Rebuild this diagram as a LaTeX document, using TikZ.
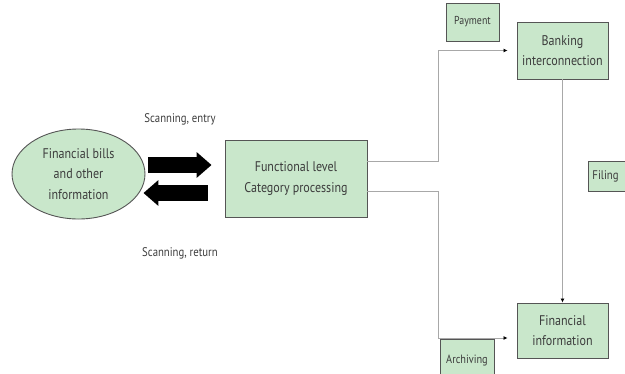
\documentclass[tikz,border=0pt]{standalone}
\usepackage{fontspec}
\newfontfamily\diagfont[FakeStretch=0.86]{PT Sans}
\usepackage{tikz}
\usetikzlibrary{shapes,arrows.meta}
\definecolor{bgreen}{HTML}{C9E7CB}
\definecolor{bedge}{HTML}{555555}
\definecolor{btext}{HTML}{3C3C3C}
\definecolor{bline}{HTML}{A8A8A8}
\tikzstyle{block} = [rectangle, draw=bedge, fill=bgreen, line width=0.9pt, align=center, text=btext, inner sep=1pt]
\tikzstyle{arrow} = [draw=bline, line width=0.9pt, -{Latex[black, length=4pt, width=4pt]}]
\tikzstyle{fat} = [draw=black, line width=16pt, -{Triangle[length=15pt, width=25pt]}]

\begin{document}
\begin{tikzpicture}[x=1pt, y=-1pt, font=\diagfont\fontsize{14}{20.5}\selectfont]
\clip (0, 0) rectangle (625, 373);
\fill[white] (0, 0) rectangle (625, 373);

%% source and processing
\node[block, ellipse, minimum width=133, minimum height=90] at (78.5, 174) (bills) {Financial bills\\and other\\information};
\node[block, minimum width=142, minimum height=77] at (296, 178.5) (func) {Functional level\\Category processing};

\node[text=btext, font=\diagfont\fontsize{12.5}{14}\selectfont] at (180, 119) (entry) {Scanning, entry};
\node[text=btext, font=\diagfont\fontsize{12.5}{14}\selectfont] at (180, 253) (ret) {Scanning, return};

\path[fat] ([xshift=3, yshift=9]bills.east) -- ([xshift=-13, yshift=13.5]func.west);
\path[fat] ([xshift=-17, yshift=-14.5]func.west) -- ([xshift=-2, yshift=-19]bills.east);

%% outputs
\node[block, minimum width=91, minimum height=57] at (562.5, 50.5) (bank) {Banking\\interconnection};
\node[block, minimum width=91, minimum height=55] at (562.5, 330.5) (fin) {Financial\\information};

\node[block, minimum width=53, minimum height=38, font=\diagfont\fontsize{11.5}{12}\selectfont] at (472.5, 22) (pay) {Payment};
\node[block, minimum width=56, minimum height=30, anchor=west, font=\diagfont\fontsize{12.5}{12}\selectfont, text width=48, align=left] at (588, 176) (filing) {Filing};
\node[block, minimum width=54, minimum height=42, font=\diagfont\fontsize{12}{12}\selectfont] at (467, 360) (arch) {Archiving};

\path[arrow, shorten >=9] ([yshift=17.5]func.east) -- ++(71, 0) |- (bank.west);
\path[arrow, shorten >=9] ([yshift=-12.5]func.east) -- ++(71, 0) |- ([yshift=-7.5]fin.west);
\path[arrow] (bank.south) -- (fin.north);
\end{tikzpicture}
\end{document}
